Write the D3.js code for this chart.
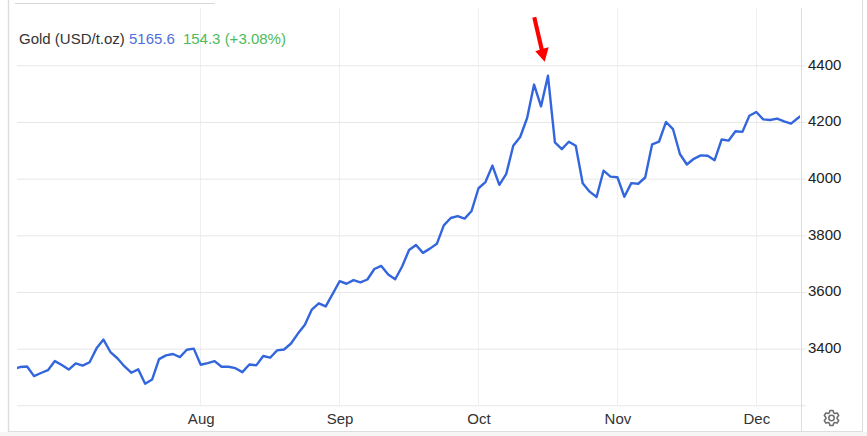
<!DOCTYPE html>
<html>
<head>
<meta charset="utf-8">
<script src="https://cdn.jsdelivr.net/npm/d3@7"></script>
<style>
  html, body { margin: 0; padding: 0; background: #fff; }
  svg { display: block; font-family: "Liberation Sans", Arial, sans-serif; }
</style>
</head>
<body>
<div id="chart"></div>
<script>
// Gold price, one value per trading day
const prices = [
  3328, 3335, 3337, 3303, 3314, 3324, 3356, 3342, 3326, 3348,
  3340, 3352, 3401, 3432, 3388, 3366, 3338, 3315, 3327, 3276,
  3291, 3363, 3376, 3381, 3370, 3396, 3400, 3343, 3349, 3356,
  3336, 3336, 3331, 3317, 3344, 3341, 3374, 3368, 3394, 3397,
  3418, 3453, 3484, 3538, 3560, 3549, 3593, 3638, 3629, 3642,
  3634, 3644, 3681, 3692, 3662, 3645, 3690, 3748, 3766, 3738,
  3753, 3770, 3835, 3861, 3868, 3859, 3886, 3966, 3988, 4046,
  3978, 4017, 4116, 4147, 4214, 4332, 4255, 4363, 4128, 4104,
  4130, 4116, 3984, 3954, 3935, 4028, 4007, 4005, 3936, 3984,
  3982, 4004, 4121, 4131, 4200, 4175, 4087, 4050, 4070, 4082,
  4081, 4065, 4138, 4134, 4167, 4165, 4222, 4235, 4209, 4207,
  4212, 4202, 4194, 4214, 4232
];
const monthLabels = ["Aug", "Sep", "Oct", "Nov", "Dec"];
const monthIndexes = [27, 47, 67, 87, 107];
const priceTicks = [3200, 3400, 3600, 3800, 4000, 4200, 4400];
const peakIndex = 77;

const width = 867, height = 436;

const svg = d3.select("#chart")
  .append("svg")
  .attr("width", width)
  .attr("height", height);

const x = d3.scaleLinear()
  .domain([0, 100])
  .range([13.2, 707.7]);

const y = d3.scaleLinear()
  .domain([3200, 4400])
  .range([405.3, 65.3]);

// page frame
svg.append("rect")
  .attr("x", 0).attr("y", 432)
  .attr("width", width).attr("height", 4)
  .attr("fill", "#f6f6f6");
svg.append("line")
  .attr("x1", 8.5).attr("x2", 8.5).attr("y1", 0).attr("y2", 432)
  .attr("stroke", "#dcdcdc").attr("stroke-width", 1.4);
svg.append("line")
  .attr("x1", 8).attr("x2", 863).attr("y1", 431.5).attr("y2", 431.5)
  .attr("stroke", "#dedede");
svg.append("line")
  .attr("x1", 862.5).attr("x2", 862.5).attr("y1", 0).attr("y2", 432)
  .attr("stroke", "#dedede");
svg.append("line")
  .attr("x1", 15).attr("x2", 215).attr("y1", 3.5).attr("y2", 3.5)
  .attr("stroke", "#d8d8d8");

// vertical grid and month labels
svg.append("g")
  .attr("transform", "translate(0,405.5)")
  .call(d3.axisBottom(x)
    .tickValues(monthIndexes)
    .tickSize(0)
    .tickPadding(8)
    .tickFormat(function(d, i) { return monthLabels[i]; }))
  .call(function(g) {
    g.select(".domain").remove();
    g.selectAll("text").attr("font-size", 15).attr("font-family", "inherit").attr("fill", "#333");
  });
svg.append("g")
  .selectAll("line")
  .data(monthIndexes)
  .enter()
  .append("line")
  .attr("x1", function(d) { return Math.floor(x(d)) + 0.5; })
  .attr("x2", function(d) { return Math.floor(x(d)) + 0.5; })
  .attr("y1", 8)
  .attr("y2", 405)
  .attr("stroke", "#edeff2");

// horizontal grid and price labels on the right
svg.append("g")
  .attr("transform", "translate(806,0)")
  .call(d3.axisLeft(y)
    .tickValues(priceTicks)
    .tickSize(789)
    .tickFormat(""))
  .call(function(g) {
    g.select(".domain").remove();
    g.selectAll("line").attr("stroke", "#e6e6e6");
  });
svg.append("g")
  .selectAll("text")
  .data(priceTicks.filter(function(d) { return d > 3200; }))
  .enter()
  .append("text")
  .attr("x", 808)
  .attr("y", function(d) { return y(d) - 1; })
  .attr("dy", "0.35em")
  .attr("font-size", 15)
  .attr("fill", "#222")
  .text(function(d) { return d; });

// right axis line
svg.append("line")
  .attr("x1", 801.5).attr("x2", 801.5).attr("y1", 8).attr("y2", 432)
  .attr("stroke", "#dedede");

// price line, cut off at the plot edges
svg.append("clipPath")
  .attr("id", "plot-clip")
  .append("rect")
  .attr("x", 17).attr("y", 0)
  .attr("width", 783).attr("height", 420);

const line = d3.line()
  .x(function(d, i) { return x(i); })
  .y(function(d) { return y(d); });

svg.append("path")
  .datum(prices)
  .attr("clip-path", "url(#plot-clip)")
  .attr("fill", "none")
  .attr("stroke", "#3366dd")
  .attr("stroke-width", 2.4)
  .attr("stroke-linejoin", "round")
  .attr("d", line);

// legend
const legend = svg.append("text")
  .attr("x", 19)
  .attr("y", 44)
  .attr("font-size", 15);
legend.append("tspan").attr("fill", "#333").text("Gold (USD/t.oz) ");
legend.append("tspan").attr("fill", "#4f6fdc").text("5165.6");
legend.append("tspan").attr("fill", "#4cbb5c").attr("dx", 8).text("154.3 (+3.08%)");

// red arrow pointing at the peak
const tipX = x(peakIndex) - 3.3, tipY = y(prices[peakIndex]) - 14;
const arrow = [
  [-12.4, -44], [-8.4, -45], [-1, -13.3], [4, -14.6],
  [0, 0], [-9.4, -10.6], [-5, -12]
];
svg.append("polygon")
  .attr("points", arrow.map(function(p) { return (tipX + p[0]) + "," + (tipY + p[1]); }).join(" "))
  .attr("fill", "#ff0000");

// settings gear
const gearCx = 831.5, gearCy = 418;
let gearPts = [];
for (let t = 0; t < 6; t++) {
  const a = t * Math.PI / 3;
  [[-0.42, 5.6], [-0.2, 7.6], [0.2, 7.6], [0.42, 5.6]].forEach(function(p) {
    gearPts.push([gearCx + p[1] * Math.sin(a + p[0]), gearCy - p[1] * Math.cos(a + p[0])]);
  });
}
svg.append("path")
  .attr("d", d3.line().curve(d3.curveLinearClosed)(gearPts))
  .attr("fill", "none")
  .attr("stroke", "#6e6e6e")
  .attr("stroke-width", 1.6)
  .attr("stroke-linejoin", "round");
svg.append("circle")
  .attr("cx", gearCx).attr("cy", gearCy).attr("r", 2.7)
  .attr("fill", "none").attr("stroke", "#6e6e6e").attr("stroke-width", 1.5);
</script>
</body>
</html>
